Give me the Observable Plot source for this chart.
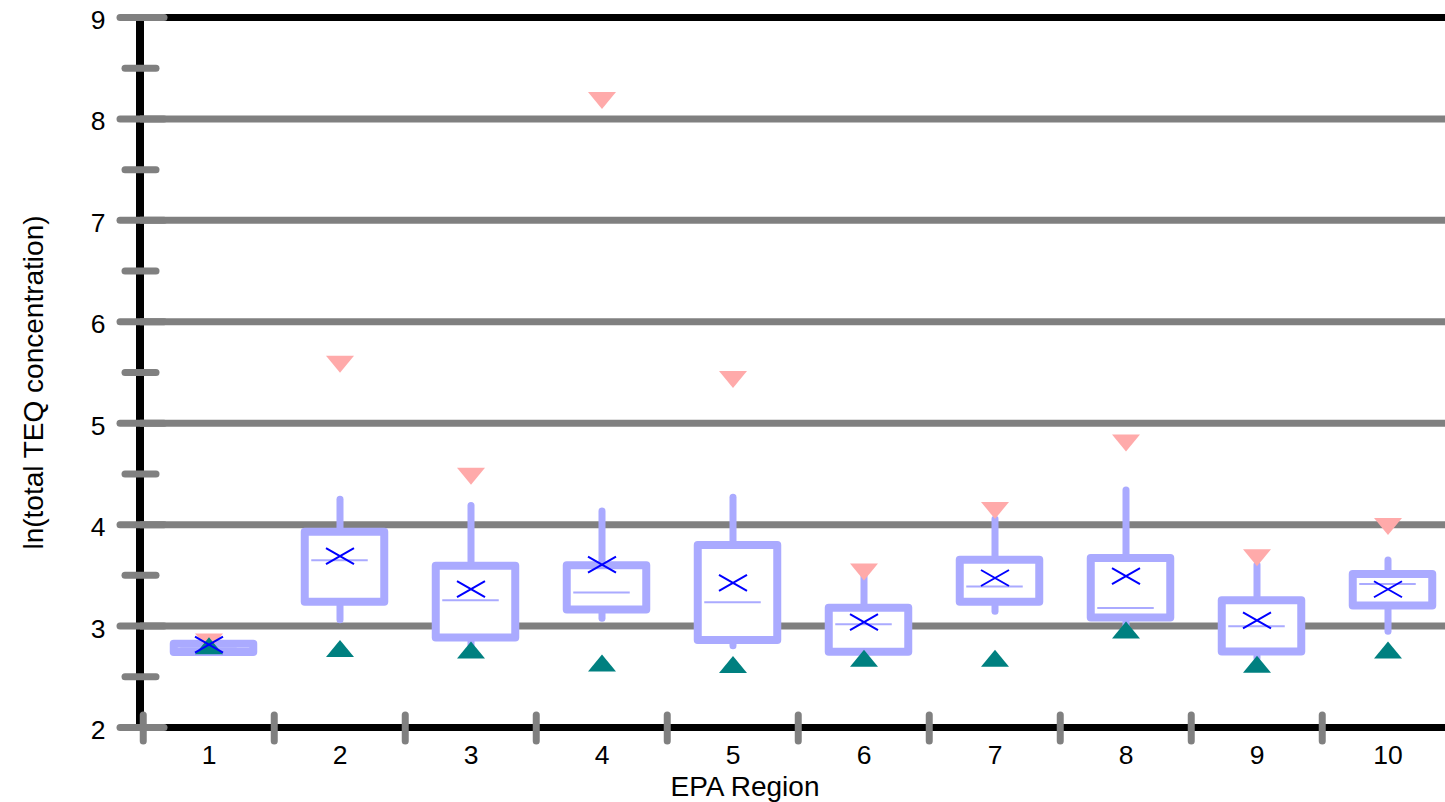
<!DOCTYPE html>
<html>
<head>
<meta charset="utf-8">
<script src="https://cdn.jsdelivr.net/npm/d3@7"></script>
<script src="https://cdn.jsdelivr.net/npm/@observablehq/plot@0.6"></script>
<style>
  html, body { margin: 0; padding: 0; background: white; overflow: hidden; }
  svg { overflow: hidden; display: block; }
</style>
</head>
<body>
<div id="chart"></div>
<script>
// ---- data ----
const regions = ["1", "2", "3", "4", "5", "6", "7", "8", "9", "10"];
const q1 =          [2.74, 3.235, 2.882, 3.158, 2.857, 2.742, 3.235, 3.079, 2.745, 3.198];
const q3 =          [2.82, 3.925, 3.590, 3.595, 3.794, 3.176, 3.649, 3.666, 3.250, 3.508];
const medians =     [2.78, 3.649, 3.255, 3.331, 3.235, 3.018, 3.390, 3.179, 2.998, 3.415];
const means =       [2.816, 3.690, 3.365, 3.605, 3.425, 3.038, 3.474, 3.493, 3.057, 3.363];
const whiskerLow =  [2.74, 3.057, 2.800, 3.072, 2.800, 2.700, 3.141, 3.000, 2.680, 2.944];
const whiskerHigh = [2.82, 4.245, 4.183, 4.130, 4.265, 3.500, 4.050, 4.337, 3.600, 3.647];
const maxima =      [2.843, 5.582, 4.478, 8.182, 5.430, 3.534, 4.140, 4.804, 3.673, 3.982];
const minima =      [2.806, 2.780, 2.765, 2.637, 2.620, 2.683, 2.683, 2.962, 2.624, 2.764];
const majorTicks = [2, 3, 4, 5, 6, 7, 8, 9];
const minorTicks = [2.5, 3.5, 4.5, 5.5, 6.5, 7.5, 8.5];
const gridValues = [3, 4, 5, 6, 7, 8];
const frameValues = [2, 9];
const yTitle = "ln(total TEQ concentration)";
const xTitle = "EPA Region";

const table = regions.map((r, i) => ({
  region: r, q1: q1[i], q3: q3[i], median: medians[i], mean: means[i],
  lo: whiskerLow[i], hi: whiskerHigh[i], max: maxima[i], min: minima[i]
}));

// ---- styles ----
const FONT = "'Liberation Sans', Arial, sans-serif";
const GRAY = "#808080";
const LAV = "#aaaaff";
const PINK = "#ffaaaa";
const TEAL = "#008080";
const BLUE = "#0000ff";

const xRange = [140, 1455];
const bw = (xRange[1] - xRange[0]) / regions.length;

// custom marker shapes
const triDown = {draw(c) { c.moveTo(-14, -8.5); c.lineTo(14, -8.5); c.lineTo(0, 8.5); c.closePath(); }};
const triUp = {draw(c) { c.moveTo(-14, 8.5); c.lineTo(14, 8.5); c.lineTo(0, -8.5); c.closePath(); }};
const cross = {draw(c) { c.moveTo(-14, -8); c.lineTo(14, 8); c.moveTo(-14, 8); c.lineTo(14, -8); }};

// left black axis line drawn through the scales
const leftAxis = (index, scales, values, dim) => {
  const g = d3.create("svg:line")
    .attr("x1", dim.marginLeft).attr("x2", dim.marginLeft)
    .attr("y1", scales.y(2)).attr("y2", scales.y(9))
    .attr("stroke", "black").attr("stroke-width", 8);
  return g.node();
};

const chart = Plot.plot({
  width: 1445,
  height: 802,
  marginLeft: 140,
  marginRight: 0,
  marginTop: 17,
  marginBottom: 75,
  style: {fontFamily: FONT, color: "black", background: "white"},
  x: {type: "band", domain: regions, range: xRange, padding: 0, axis: null},
  y: {domain: [2, 9], axis: null},
  marks: [
    Plot.ruleY(frameValues, {stroke: "black", strokeWidth: 7}),
    leftAxis,
    Plot.ruleY(gridValues, {stroke: GRAY, strokeWidth: 7}),
    // y ticks (major & minor), gray rounded
    Plot.axisY({ticks: majorTicks, tickSize: 44, dx: 24, tickFormat: () => "", label: null,
      stroke: GRAY, strokeWidth: 7, strokeLinecap: "round"}),
    Plot.axisY({ticks: minorTicks, tickSize: 31, dx: 16, tickFormat: () => "", label: null,
      stroke: GRAY, strokeWidth: 7, strokeLinecap: "round"}),
    // x ticks at category boundaries
    Plot.axisX({ticks: regions, tickSize: 26, dy: -12, dx: -bw / 2, tickFormat: () => "", label: null,
      stroke: GRAY, strokeWidth: 7, strokeLinecap: "round"}),
    // tick labels
    Plot.axisY({ticks: majorTicks, tickFormat: d3.format("d"), tickSize: 0, tickPadding: 35, dy: 3,
      label: null, fontSize: 26.5, fill: "black"}),
    Plot.axisX({tickSize: 0, tickPadding: 18, label: null, fontSize: 26.5, fill: "black"}),
    // boxes
    Plot.ruleX(table, {x: "region", y1: "lo", y2: "hi", stroke: LAV, strokeWidth: 7, strokeLinecap: "round"}),
    Plot.barY(table, {x: "region", y1: "q1", y2: "q3", fill: "white", stroke: LAV, strokeWidth: 8,
      strokeLinejoin: "round", insetLeft: bw / 2 - 35, insetRight: bw / 2 - 45}),
    Plot.tickY(table, {x: "region", y: "median", stroke: LAV, strokeWidth: 2,
      insetLeft: bw / 2 - 28.5, insetRight: bw / 2 - 28.5}),
    Plot.dot(table, {x: "region", y: "max", symbol: triDown, fill: PINK, stroke: "none"}),
    Plot.dot(table, {x: "region", y: "min", symbol: triUp, fill: TEAL, stroke: "none"}),
    Plot.dot(table, {x: "region", y: "mean", symbol: cross, fill: "none", stroke: BLUE, strokeWidth: 2}),
    // titles
    Plot.text([yTitle], {frameAnchor: "left", textAnchor: "middle", lineAnchor: "middle", rotate: -90,
      dx: -106, dy: 10, fontSize: 28, fill: "black"}),
    Plot.text([xTitle], {frameAnchor: "bottom", textAnchor: "middle", lineAnchor: "middle",
      dx: -48, dy: 60, fontSize: 28, fill: "black"})
  ]
});
document.getElementById("chart").appendChild(chart);
</script>
</body>
</html>
